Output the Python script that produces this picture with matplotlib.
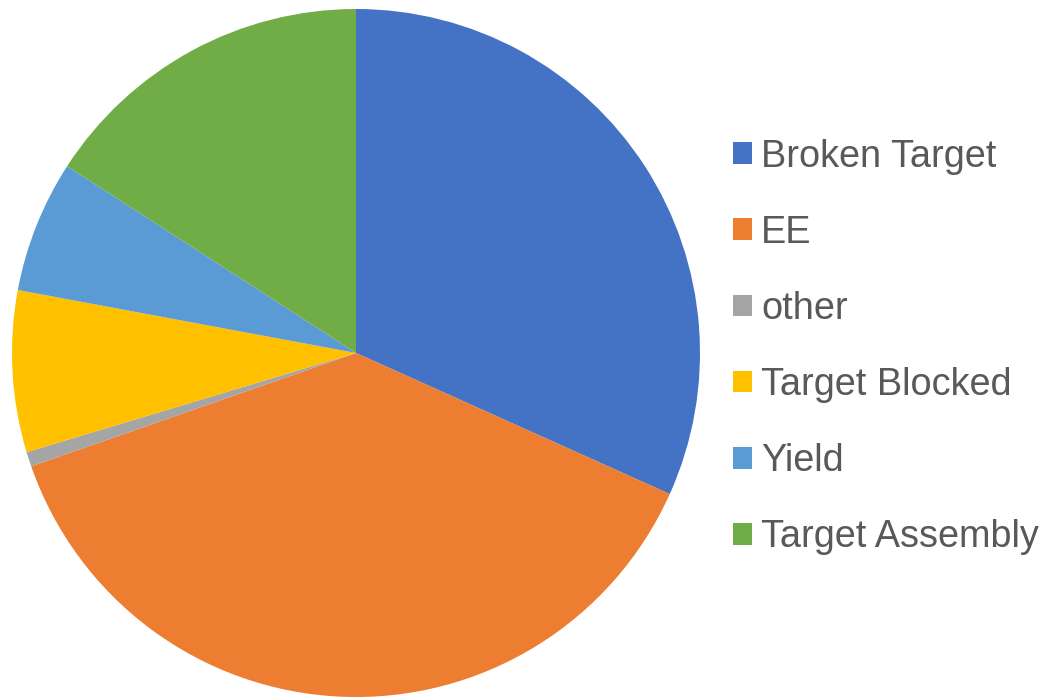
import matplotlib.pyplot as plt
from matplotlib.patches import Patch

# counts per failure category
labels = ['Broken Target', 'EE', 'other', 'Target Blocked', 'Yield', 'Target Assembly']
counts = [46, 55, 1, 11, 9, 23]
colors = ['#4472C4', '#ED7D31', '#A5A5A5', '#FFC000', '#5B9BD5', '#70AD47']

plt.rcParams['font.family'] = ['Liberation Sans', 'DejaVu Sans']

W, H = 1049, 699
fig = plt.figure(figsize=(W / 100, H / 100), dpi=100)

# pie centre (356, 353) px, radius 344 px
cx, cy, r = 356, 353, 344
ax = fig.add_axes([(cx - r) / W, (H - cy - r) / H, 2 * r / W, 2 * r / H])
ax.pie(counts, colors=colors, startangle=90, counterclock=False, radius=1,
       wedgeprops={'linewidth': 0})
ax.set_xlim(-1, 1)
ax.set_ylim(-1, 1)
ax.set_aspect('equal')
ax.axis('off')

handles = [Patch(facecolor=c, edgecolor='none') for c in colors]
leg = fig.legend(handles, labels, loc='center left',
                 bbox_to_anchor=(733 / W, (H - 347) / H),
                 frameon=False, fontsize=27.3, labelcolor='#595959',
                 handlelength=0.5, handleheight=0.5, handletextpad=0.24,
                 labelspacing=1.06, borderaxespad=0, borderpad=0)

fig.savefig('out.png', dpi=100)
